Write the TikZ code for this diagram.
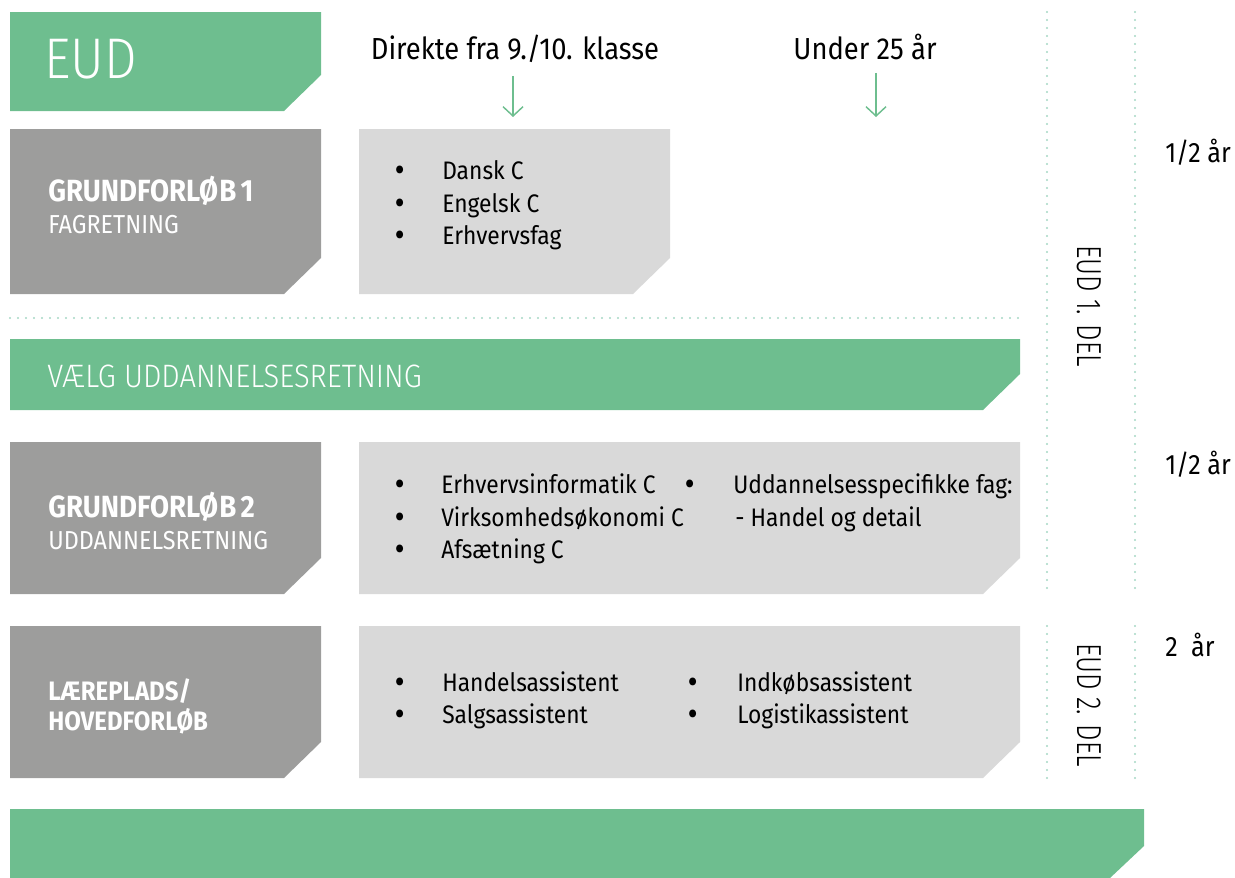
\documentclass[tikz,border=0pt]{standalone}
\usepackage{fontspec}
\setmainfont[FakeStretch=0.9]{Fira Sans}
\newfontfamily\lightfont[FakeStretch=0.9]{Fira Sans Light}
\newfontfamily\partfont[FakeStretch=0.75]{Fira Sans Light}
\usepackage{tikz}
\usepackage{xcolor}
\usetikzlibrary{positioning}
\usetikzlibrary{arrows.meta}
\usetikzlibrary{math}

\definecolor{eudgreen}{RGB}{110,190,143}
\definecolor{darkbox}{RGB}{157,157,156}
\definecolor{lightbox}{RGB}{217,217,217}
\definecolor{dotline}{RGB}{165,216,196}

% box with the lower right corner cut off: colour, left, top, right, bottom
\newcommand{\cutbox}[5]{%
  \fill[#1] (#2,#3) -- (#4,#3) -- (#4,#5-\cuty) -- (#4-\cutx,#5) -- (#2,#5) -- cycle;}

\begin{document}
\begin{tikzpicture}[x=0.75pt,y=-0.75pt,
  txt/.style={inner sep=0pt, anchor=base west, font=\fontsize{19}{22}\selectfont},
  head/.style={txt, text=white, font=\fontsize{23}{26}\selectfont\bfseries},
  sub/.style={txt, text=white, font=\fontsize{19.5}{22}\selectfont},
  bul/.style={txt, font=\fontsize{21}{24}\selectfont\bfseries},
  top/.style={inner sep=0pt, anchor=base, font=\fontsize{22.8}{26}\selectfont},
  dur/.style={txt, font=\fontsize{21}{24}\selectfont},
  part/.style={inner sep=0pt, rotate=-90, font=\partfont\fontsize{26}{28}\selectfont},
  arr/.style={draw=eudgreen, line width=1.1pt, -{Straight Barb[length=7pt,width=15pt]}},
  dots/.style={draw=dotline, line width=1.7pt, line cap=round, dash pattern=on 0pt off 6pt}]

  \tikzmath{
    \cutx = 37; % width of the cut corner
    \cuty = 36; % height of the cut corner
  }

  \useasboundingbox (0,0) rectangle (1235,878);

  % boxes
  \cutbox{eudgreen}{10}{12}{321}{111}
  \cutbox{darkbox}{10}{129}{321}{294}
  \cutbox{lightbox}{359}{129}{670}{294}
  \cutbox{eudgreen}{10}{339}{1020}{410}
  \cutbox{darkbox}{10}{442}{321}{594}
  \cutbox{lightbox}{359}{442}{1020}{594}
  \cutbox{darkbox}{10}{626}{321}{778}
  \cutbox{lightbox}{359}{626}{1020}{778}
  \fill[eudgreen] (10,809) -- (1144,809) -- (1144,846) -- (1110,878) -- (10,878) -- cycle;

  % dotted separators
  \draw[dots] (10,318) -- (1020,318);
  \draw[dots] (1047,12) -- (1047,594);
  \draw[dots] (1135,12) -- (1135,594);
  \draw[dots] (1047,626) -- (1047,778);
  \draw[dots] (1135,626) -- (1135,778);

  % title and entry routes
  \node[txt, text=white, font=\lightfont\fontsize{43}{48}\selectfont] (eud) at (44,78) {EUD};
  \node[top] (direct) at (515,59) {Direkte fra 9./10. klasse};
  \node[top] (under) at (865,59) {Under 25 år};
  \coordinate (directend) at (513,117);
  \coordinate (underend) at (876,117);
  \draw[arr, shorten <=10pt] (directend |- direct.south) -- (directend);
  \draw[arr, shorten <=10pt] (underend |- under.south) -- (underend);

  % grundforloeb 1
  \node[head] (gf1) at (48,201) {GRUNDFORLØ\kern1pt B\kern3pt 1};
  \node[sub] (gf1sub) at (48,233) {FAGRETNING};
  \node[bul] (b1a) at (395,179) {•};
  \node[bul] (b1b) at (395,212) {•};
  \node[bul] (b1c) at (395,244) {•};
  \node[txt] (dansk) at (442,179) {Dansk C};
  \node[txt] (engelsk) at (442,212) {Engelsk C};
  \node[txt] (erhverv) at (442,244) {Erhvervsfag};

  % choice of direction
  \node[txt, text=white, font=\lightfont\fontsize{24.3}{27}\selectfont] (choose) at (47,387) {VÆLG UDDANNELSESRETNING};

  % grundforloeb 2
  \node[head] (gf2) at (48,517) {GRUNDFORLØ\kern1pt B\kern3pt 2};
  \node[sub] (gf2sub) at (48,549) {UDDANNELSRETNING};
  \node[bul] (b2a) at (395,493) {•};
  \node[bul] (b2b) at (395,526) {•};
  \node[bul] (b2c) at (395,558) {•};
  \node[bul] (b2d) at (685,493) {•};
  \node[txt] (info) at (441,493) {Erhvervsinformatik C};
  \node[txt] (oek) at (441,526) {Virksomhedsøkonomi C};
  \node[txt] (afs) at (441,558) {Afsætning C};
  \node[txt] (spec) at (733,493) {Uddannelsesspecifikke fag:};
  \node[txt] (handel) at (735,526) {- Handel og detail};

  % hovedforloeb
  \node[head, font=\fontsize{20}{23}\selectfont\bfseries] (lp) at (48,700) {LÆREPLADS/};
  \node[head, font=\fontsize{20}{23}\selectfont\bfseries] (hf) at (48,730) {HOVEDFORLØB};
  \node[bul] (b3a) at (395,691) {•};
  \node[bul] (b3b) at (395,723) {•};
  \node[bul] (b3c) at (688,691) {•};
  \node[bul] (b3d) at (688,723) {•};
  \node[txt] (hass) at (442,691) {Handelsassistent};
  \node[txt] (sass) at (442,723) {Salgsassistent};
  \node[txt] (iass) at (737,691) {Indkøbsassistent};
  \node[txt] (lass) at (737,723) {Logistikassistent};

  % parts and durations
  \node[part] (del1) at (1089,306) {EUD 1. DEL};
  \node[part] (del2) at (1089,705) {EUD 2. DEL};
  \node[dur] (dur1) at (1165,162) {1/2 år};
  \node[dur] (dur2) at (1165,474) {1/2 år};
  \node[dur] (dur3) at (1165,656) {2\ \ år};

\end{tikzpicture}
\end{document}
